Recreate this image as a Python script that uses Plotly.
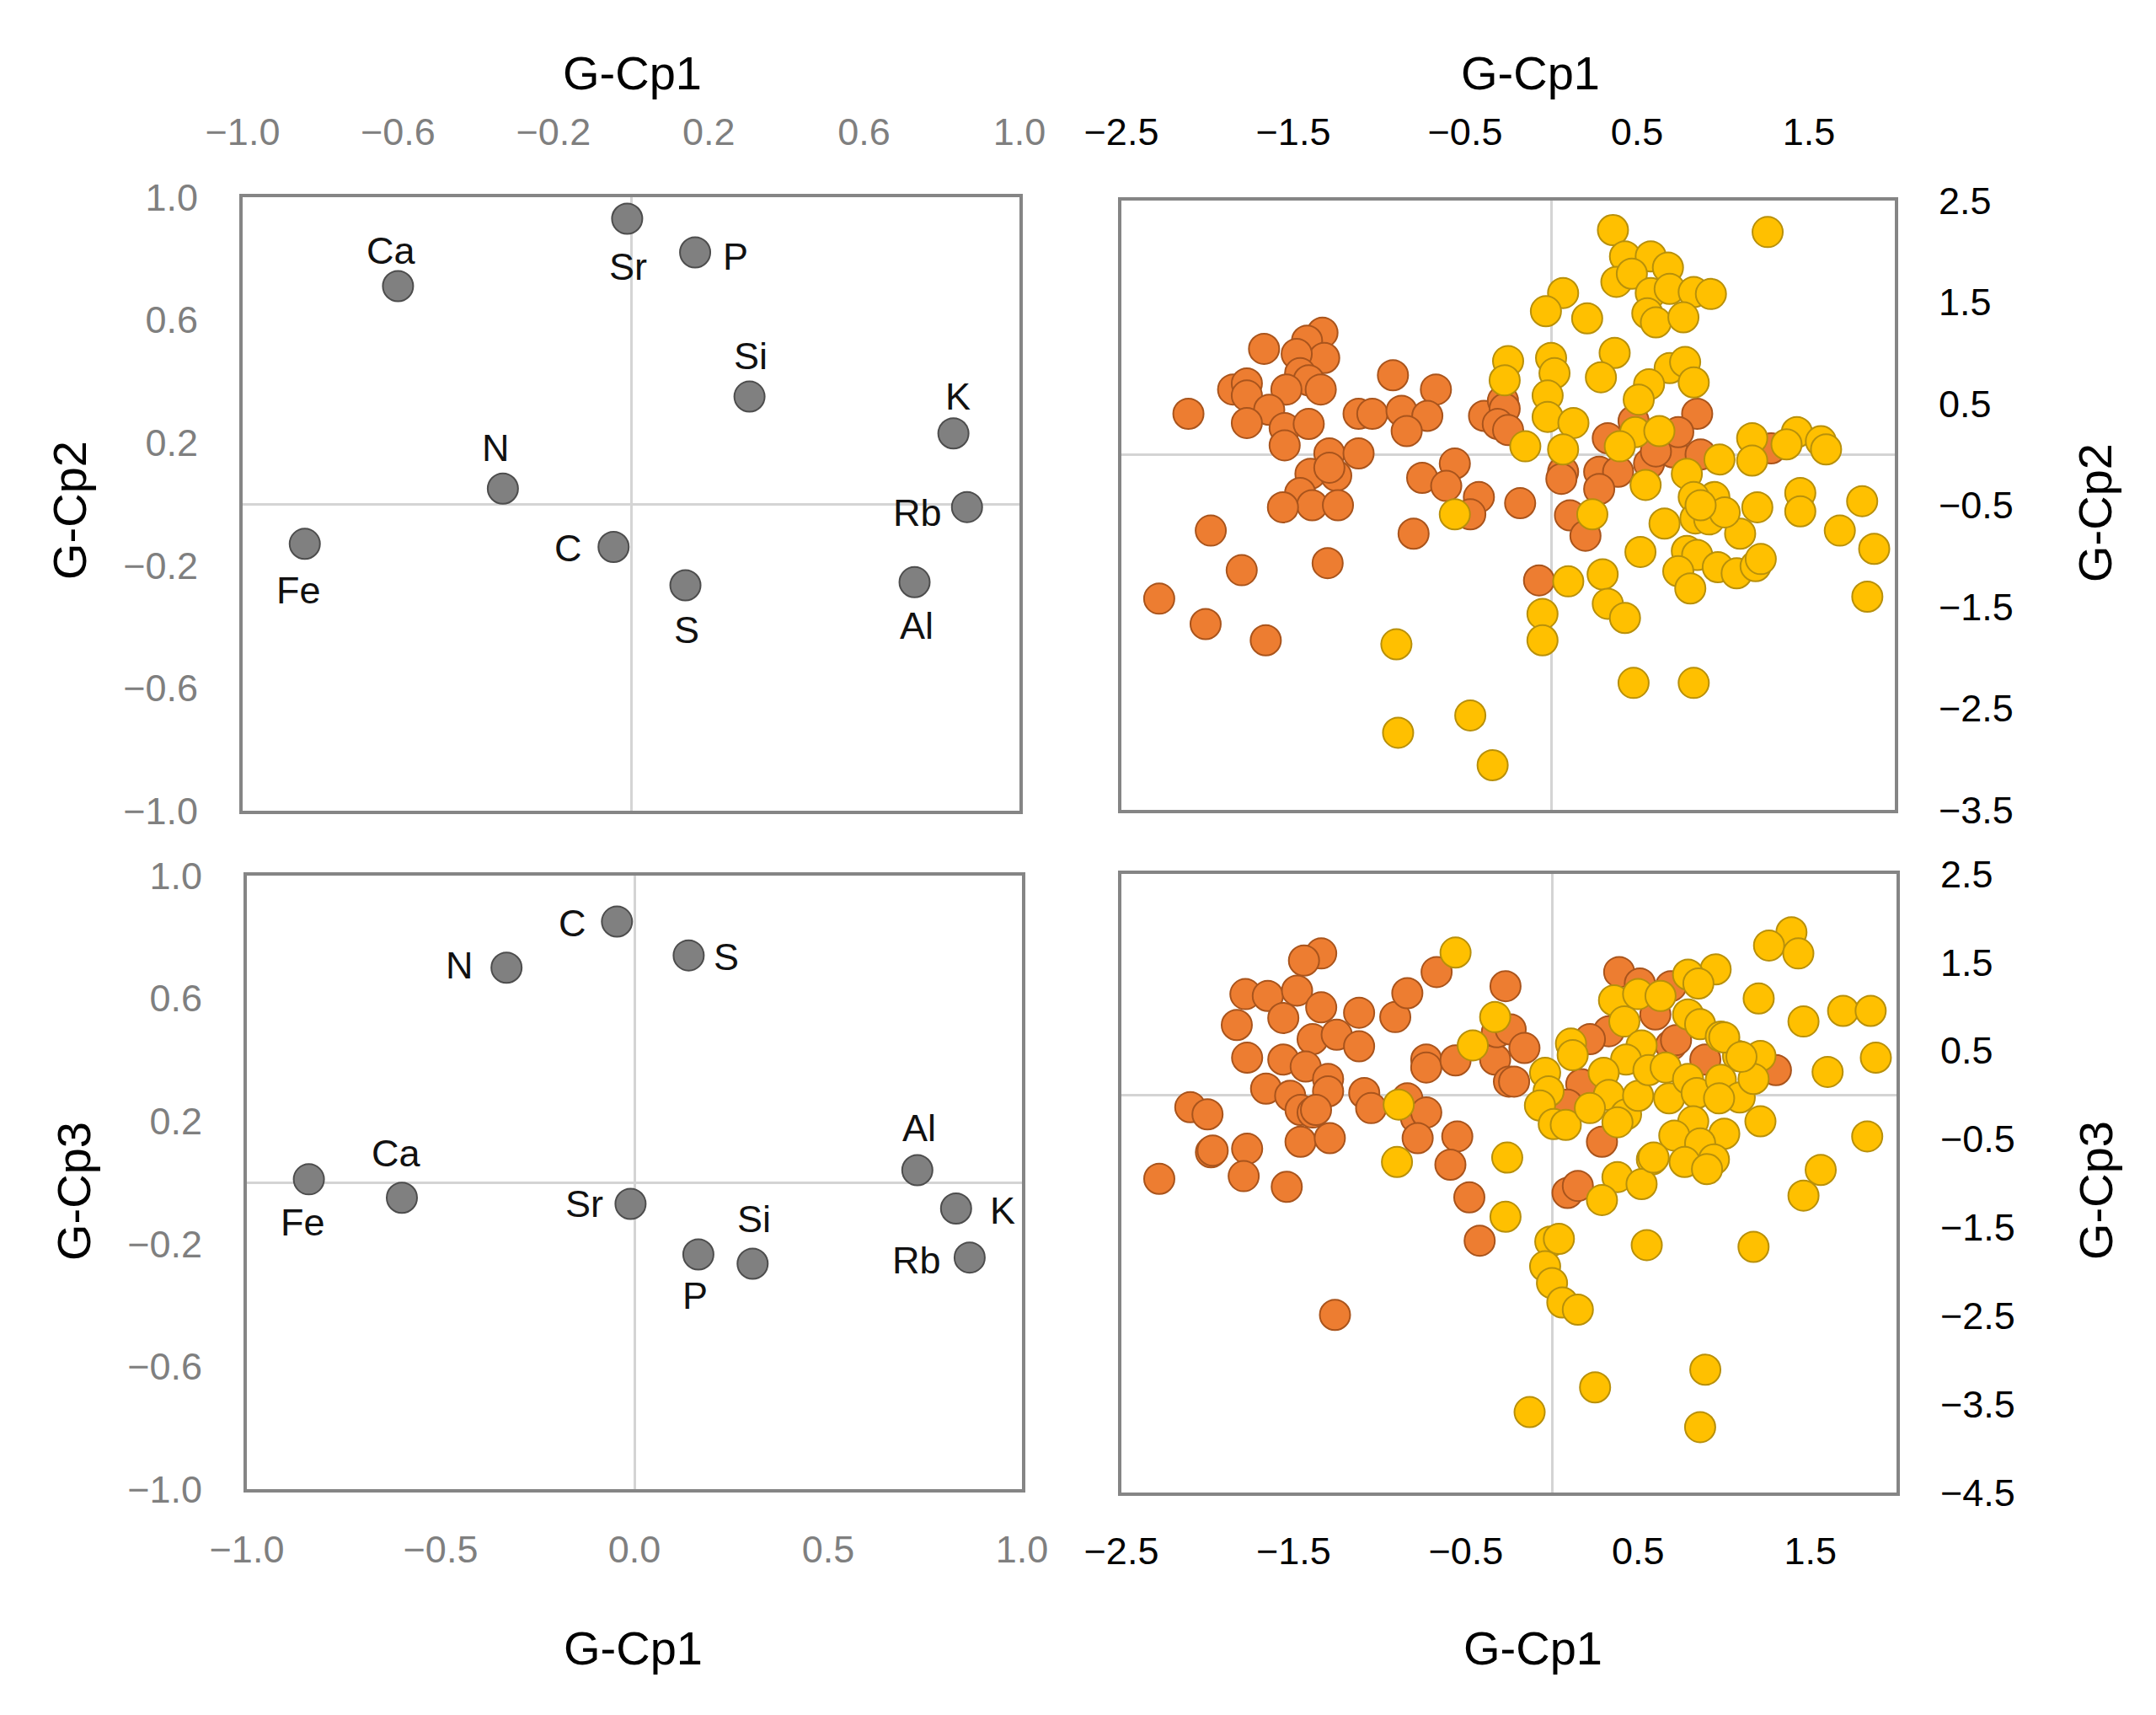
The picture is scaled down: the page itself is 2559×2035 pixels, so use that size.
import plotly.graph_objects as go

# ---------------- DATA ----------------
elements = ["Fe", "Ca", "N", "C", "Sr", "S", "P", "Si", "Al", "K", "Rb"]
load_cp1 = [-0.84, -0.60, -0.33, -0.045, -0.01, 0.14, 0.165, 0.305, 0.73, 0.83, 0.865]
load_cp2 = [-0.13, 0.71, 0.05, -0.14, 0.93, -0.265, 0.82, 0.35, -0.255, 0.23, -0.01]
load_cp3 = [0.01, -0.05, 0.70, 0.85, -0.07, 0.74, -0.235, -0.265, 0.04, -0.085, -0.245]

# scores, group 1 (orange) : G-Cp1 vs G-Cp2
g1_cp1_a = [-2.11, -1.67, -1.33, -1.42, -1.32, -1.48, -1.46, -1.41, -1.34, -1.54, -1.85, -1.77,
            -1.77, -0.92, -0.67, -1.64, -1.12, -1.04, -0.87, -0.72, -0.39, -0.28, -0.27, -1.77,
            -1.55, -1.55, -1.41, -1.29, -1.12, -0.84, -0.31, -0.25, -1.40, -1.25, -1.29, -1.46,
            -1.39, -1.56, -1.24, -0.75, -0.56, -0.61, -0.42, -0.47, -0.80, -1.98, -1.80, -1.30,
            -2.28, -2.01, -1.66, -0.18, 0.85, 0.33, 0.28, 0.39, 0.57, 0.71, 0.87, 0.07, 0.06,
            0.28, 0.11, 0.20, -0.07, 1.28, 0.74, 0.48, 0.61]
g1_cp2 = [0.40, 1.04, 1.20, 1.12, 0.95, 0.99, 0.80, 0.73, 0.64, 0.64, 0.64, 0.70,
          0.58, 0.78, 0.64, 0.44, 0.40, 0.40, 0.43, 0.38, 0.38, 0.53, 0.45, 0.31,
          0.26, 0.09, 0.30, 0.01, 0.01, 0.23, 0.30, 0.24, -0.19, -0.21, -0.13, -0.38,
          -0.50, -0.52, -0.50, -0.23, -0.09, -0.31, -0.42, -0.59, -0.78, -0.75, -1.14, -1.07,
          -1.42, -1.67, -1.83, -0.48, 0.40, 0.16, -0.17, -0.17, -0.09, 0.02, 0.00, -0.17, -0.24,
          -0.34, -0.60, -0.80, -1.24, 0.06, 0.22, 0.33, 0.03]

# scores, group 2 (yellow) : G-Cp1 vs G-Cp2
g2_cp1_a = [0.36, 1.26, 0.43, 0.58, 0.68, 0.38, 0.47, 0.58, 0.69, 0.83, 0.93, 0.56, 0.61, 0.77,
            0.07, -0.03, 0.21, 0.00, 0.02, -0.02, -0.25, -0.27, 0.37, 0.29, 0.69, 0.78, 0.83,
            0.57, 0.51, -0.02, 0.13, -0.15, 0.07, 0.49, 0.63, 0.40, 0.55, 0.79, 0.98, 1.17,
            1.17, 1.43, 1.37, 1.57, 1.60, 0.95, 0.83, 0.84, 0.92, 0.66, 1.20, 1.10, 1.45, 1.45,
            1.81, 1.68, 1.88, 1.84, 0.24, -0.56, 0.52, 0.79, 0.85, 0.74, 0.81, 0.97, 1.08, 1.19,
            1.22, 0.10, 0.30, 0.33, 0.43, -0.05, -0.05, -0.90, 0.48, 0.83, -0.47, -0.89, -0.34,
            1.01, 0.87]
g2_cp2 = [2.21, 2.19, 1.95, 1.95, 1.84, 1.70, 1.78, 1.59, 1.63, 1.60, 1.58, 1.39, 1.30, 1.35,
          1.59, 1.41, 1.34, 0.95, 0.80, 0.58, 0.92, 0.73, 1.00, 0.76, 0.85, 0.91, 0.71,
          0.69, 0.54, 0.37, 0.31, 0.08, 0.05, 0.22, 0.23, 0.08, -0.30, -0.19, -0.05, 0.16,
          -0.06, 0.22, 0.10, 0.13, 0.05, -0.42, -0.42, -0.63, -0.64, -0.68, -0.52, -0.78, -0.38, -0.56,
          -0.46, -0.75, -0.93, -1.40, -0.59, -0.59, -0.96, -0.95, -0.99, -1.15, -1.32, -1.11, -1.17, -1.10,
          -1.03, -1.25, -1.18, -1.47, -1.61, -1.57, -1.83, -1.87, -2.25, -2.25, -2.57, -2.74, -3.06,
          -0.57, -0.50]

# scores, group 1 (orange) : G-Cp1 vs G-Cp3
g1_cp1_b = [-1.34, -1.44, -1.78, -1.65, -1.48, -1.34, -1.56, -1.83, -1.12, -0.91, -0.84, -0.67,
            -1.39, -1.25, -1.12, -0.73, -0.27, -1.77, -1.56, -1.43, -1.30, -1.66, -1.52, -1.30,
            -1.46, -1.39, -1.09, -1.05, -2.10, -2.00, -1.98, -1.77, -1.79, -2.28, -1.54, -1.46,
            -1.29, -0.73, -0.56, -0.33, -0.25, -0.84, -0.79, -0.73, -0.78, -0.55, -0.59, -0.48,
            -0.42, -1.26, -0.32, -0.24, -0.16, 0.39, 0.51, 0.69, 0.60, 0.33, 0.22, 0.69, 0.89,
            -0.22, 0.17, 0.09, 0.29, 0.09, 0.15, 1.30, 0.72, -1.97, -1.37]
g1_cp3 = [1.60, 1.52, 1.14, 1.12, 1.18, 0.99, 0.87, 0.79, 0.93, 0.88, 1.15, 1.39,
          0.63, 0.68, 0.55, 0.40, 1.23, 0.42, 0.40, 0.32, 0.18, 0.07, -0.01, 0.04,
          -0.17, -0.20, 0.02, -0.15, -0.14, -0.22, -0.65, -0.61, -0.92, -0.95, -1.04, -0.53,
          -0.49, 0.31, 0.39, 0.40, 0.15, -0.04, -0.26, -0.20, -0.49, -0.47, -0.79, -1.16,
          -1.65, -2.49, 0.71, 0.74, 0.53, 1.39, 1.26, 1.23, 0.91, 0.72, 0.63, 0.56, 0.40,
          0.15, 0.12, -0.11, -0.53, -1.11, -1.03, 0.28, 0.62, -0.63, -0.17]

# scores, group 2 (yellow) : G-Cp1 vs G-Cp3
g2_cp1_b = [-0.56, -0.33, -0.46, -0.89, -0.90, -0.26, -0.27, 1.39, 1.26, 1.43, 0.95, 0.79, 0.85,
            1.20, 1.46, 1.69, 1.85, 1.88, 0.36, 0.50, 0.63, 0.42, 0.79, 0.86, 0.98, 0.11, 0.12,
            0.52, 0.43, 1.08, 1.21, 1.60, -0.04, -0.02, -0.07, 0.01, 0.08, 0.30, 0.33, 0.22,
            0.43, 0.38, 0.50, 0.56, 0.66, 0.68, 0.79, 0.84, 0.98, 1.09, 1.17, 0.97, 0.82, 0.71,
            1.00, 1.21, 0.86, 0.77, 0.94, 0.90, 0.58, 0.38, 0.52, 0.29, 1.83, 1.56, 1.46, -0.01,
            0.04, 0.55, 1.17, -0.04, 0.00, 0.06, 0.15, 0.89, 0.25, -0.13, 0.86, 1.00, 1.10, 0.59]
g2_cp3 = [1.61, 0.88, 0.56, -0.11, -0.76, -0.71, -1.38, 1.84, 1.69, 1.60, 1.42, 1.36, 1.26,
          1.09, 0.83, 0.95, 0.95, 0.42, 1.07, 1.14, 1.12, 0.83, 0.91, 0.80, 0.66, 0.58, 0.45,
          0.56, 0.40, 0.44, 0.44, 0.26, 0.25, 0.04, -0.12, -0.33, -0.34, 0.25, 0.00, -0.15,
          -0.22, -0.31, -0.01, 0.28, 0.31, -0.04, 0.18, 0.02, 0.17, -0.03, 0.18, -0.04, -0.30, -0.46,
          -0.44, -0.30, -0.55, -0.76, -0.73, -0.84, -0.73, -0.93, -1.01, -1.19, -0.47, -0.85, -1.14, -1.66,
          -1.63, -1.70, -1.72, -1.94, -2.13, -2.35, -2.43, -3.11, -3.31, -3.59, -3.76, 0.65, 0.43, -0.71]

ticks_load_y = [-1.0, -0.6, -0.2, 0.2, 0.6, 1.0]
ticks_load_x_top = [-1.0, -0.6, -0.2, 0.2, 0.6, 1.0]
ticks_load_x_bottom = [-1.0, -0.5, 0.0, 0.5, 1.0]
ticks_score_x = [-2.5, -1.5, -0.5, 0.5, 1.5]
ticks_score_y2 = [2.5, 1.5, 0.5, -0.5, -1.5, -2.5, -3.5]
ticks_score_y3 = [2.5, 1.5, 0.5, -0.5, -1.5, -2.5, -3.5, -4.5]

# ---------------- STYLE ----------------
# label offsets from the marker centre, in pixels (dx right, dy up)
label_off_12 = {"Fe": (-7, -55), "Ca": (-8, 42), "N": (-8, 48), "C": (-54, -2), "Sr": (1, -57),
                "S": (1, -53), "P": (48, -5), "Si": (1, 48), "Al": (2, -52), "K": (5, 44),
                "Rb": (-59, -7)}
label_off_13 = {"Fe": (-7, -51), "Ca": (-7, 53), "N": (-56, 3), "C": (-53, -2), "Sr": (-55, 0),
                "S": (45, -2), "P": (-4, -49), "Si": (2, 53), "Al": (2, 50), "K": (55, -3),
                "Rb": (-63, -3)}

W, H = 2543, 2019
OFF = 8
FONT = "Liberation Sans, Arial, sans-serif"
GRAY_TICK = "#7f7f7f"
FRAME = "#858585"
ZERO = "#d4d4d4"
MS = 36


def px_dom_x(a, b):
    return [(a - OFF) / W, (b - OFF) / W]


def px_dom_y(top, bottom):
    return [1 - (bottom - OFF) / H, 1 - (top - OFF) / H]


def fmt(v):
    return f"{v:.1f}".replace("-", "\u2212")


fig = go.Figure()

# loading panels
gray_marker = dict(size=MS, color="#808080", line=dict(color="#4d4d4d", width=2))
fig.add_trace(go.Scatter(x=load_cp1, y=load_cp2, mode="markers", marker=gray_marker,
                         xaxis="x", yaxis="y", showlegend=False))
fig.add_trace(go.Scatter(x=load_cp1, y=load_cp3, mode="markers", marker=gray_marker,
                         xaxis="x3", yaxis="y3", showlegend=False))

for xs, ys, offs, xr, yr in [(load_cp1, load_cp2, label_off_12, "x", "y"),
                             (load_cp1, load_cp3, label_off_13, "x3", "y3")]:
    for e, xv, yv in zip(elements, xs, ys):
        dx, dy = offs[e]
        fig.add_annotation(text=e, x=xv, y=yv, xref=xr, yref=yr, showarrow=False,
                           xshift=dx, yshift=dy, xanchor="center", yanchor="middle",
                           font=dict(family=FONT, size=45, color="#111111"))

orange = dict(size=MS, color="#ED7D31", line=dict(color="#A9541C", width=2))
yellow = dict(size=MS, color="#FFC000", line=dict(color="#B8900A", width=2))
fig.add_trace(go.Scatter(x=g1_cp1_a, y=g1_cp2, mode="markers", marker=orange,
                         xaxis="x2", yaxis="y2", showlegend=False))
fig.add_trace(go.Scatter(x=g2_cp1_a, y=g2_cp2, mode="markers", marker=yellow,
                         xaxis="x2", yaxis="y2", showlegend=False))
fig.add_trace(go.Scatter(x=g1_cp1_b, y=g1_cp3, mode="markers", marker=orange,
                         xaxis="x4", yaxis="y4", showlegend=False))
fig.add_trace(go.Scatter(x=g2_cp1_b, y=g2_cp3, mode="markers", marker=yellow,
                         xaxis="x4", yaxis="y4", showlegend=False))


def axis(domain, rng, tickvals, side, tickcolor, anchor, standoff, size=45):
    return dict(domain=domain, range=rng, tickvals=tickvals, ticktext=[fmt(v) for v in tickvals],
                side=side, anchor=anchor, showgrid=False, zeroline=True, zerolinecolor=ZERO,
                zerolinewidth=3, showline=True, mirror=True, linecolor=FRAME, linewidth=4,
                ticks="", tickfont=dict(family=FONT, size=size, color=tickcolor),
                ticklabelstandoff=standoff, fixedrange=True, automargin=False)


eps = 1e-6
fig.update_layout(
    template="none",
    width=W, height=H, margin=dict(l=0, r=0, t=0, b=0, pad=0, autoexpand=False),
    paper_bgcolor="white", plot_bgcolor="white",
    xaxis=axis(px_dom_x(288, 1210), [-1 - eps, 1 + eps], ticks_load_x_top, "top", GRAY_TICK, "y", 40),
    yaxis=axis(px_dom_y(234, 962), [-1 - eps, 1 + eps], ticks_load_y, "left", GRAY_TICK, "x", 40),
    xaxis2=axis(px_dom_x(1331, 2249), [-2.5 - eps, 2.0], ticks_score_x, "top", "#000000", "y2", 44),
    yaxis2=axis(px_dom_y(238, 961), [-3.5 - eps, 2.5 + eps], ticks_score_y2, "right", "#000000", "x2", 39),
    xaxis3=axis(px_dom_x(293, 1213), [-1 - eps, 1 + eps], ticks_load_x_bottom, "bottom", GRAY_TICK, "y3", 29),
    yaxis3=axis(px_dom_y(1039, 1767), [-1 - eps, 1 + eps], ticks_load_y, "left", GRAY_TICK, "x3", 40),
    xaxis4=axis(px_dom_x(1331, 2251), [-2.5 - eps, 2.0], ticks_score_x, "bottom", "#000000", "y4", 27),
    yaxis4=axis(px_dom_y(1037, 1771), [-4.5 - eps, 2.5 + eps], ticks_score_y3, "right", "#000000", "x4", 39),
)

titles = [("G-Cp1", 750, 87, 0), ("G-Cp1", 1816, 87, 0), ("G-Cp1", 751, 1955, 0), ("G-Cp1", 1819, 1955, 0),
          ("G-Cp2", 82, 606, -90), ("G-Cp2", 2486, 609, -90), ("G-Cp3", 87, 1414, -90), ("G-Cp3", 2487, 1413, -90)]
for txt, x, y, ang in titles:
    fig.add_annotation(text=txt, x=(x - OFF) / W, y=1 - (y - OFF) / H, xref="paper", yref="paper",
                       showarrow=False, textangle=ang, xanchor="center", yanchor="middle",
                       font=dict(family=FONT, size=56, color="#000000"))

fig.write_html("out.html")
